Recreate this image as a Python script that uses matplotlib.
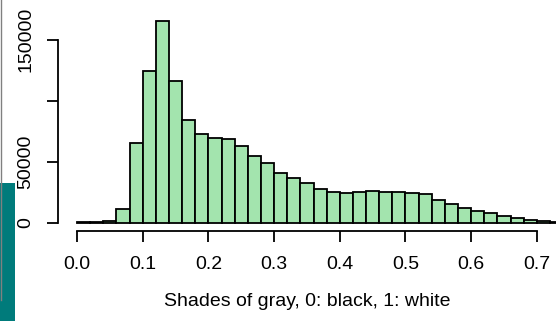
import matplotlib
matplotlib.use("Agg")
import matplotlib.pyplot as plt
from matplotlib.patches import Rectangle
from matplotlib.lines import Line2D

plt.rcParams['font.family'] = ['Liberation Sans', 'DejaVu Sans']

bin_width = 0.02
bin_starts = [round(i * bin_width, 2) for i in range(37)]
counts = [200, 300, 1200, 11200, 65100, 124100, 165100, 116400, 84300, 73000,
          69200, 68600, 62900, 54700, 48700, 40700, 36400, 32800, 27900, 24900,
          24300, 25000, 25600, 25500, 25400, 24300, 23200, 18600, 15600, 12300,
          9800, 7700, 5200, 3600, 2200, 1400, 800]
xticks = [0.0, 0.1, 0.2, 0.3, 0.4, 0.5, 0.6, 0.7]
xtick_labels = ["0.0", "0.1", "0.2", "0.3", "0.4", "0.5", "0.6", "0.7"]
yticks = [0, 50000, 100000, 150000]
ytick_labels = ["0", "50000", "", "150000"]
xlabel = "Shades of gray, 0: black, 1: white"

W, H = 556, 321
fig = plt.figure(figsize=(W / 100, H / 100), dpi=100)

# axes placement in pixels
left_px, right_px = 58, 556
top_px, bottom_px = 13.35, 231.0
ax = fig.add_axes([left_px / W, 1 - bottom_px / H, (right_px - left_px) / W, (bottom_px - top_px) / H])

ax.bar(bin_starts, counts, width=bin_width, align='edge', color='#A3E4AE',
       edgecolor='black', linewidth=1.3, clip_on=True)

ax.set_xlim(-0.0289, 0.7291)
ax.set_ylim(-6800, 171600)

for s in ['top', 'right']:
    ax.spines[s].set_visible(False)
ax.spines['left'].set_bounds(0, 150000)
ax.spines['bottom'].set_bounds(0, 0.7)
ax.spines['left'].set_linewidth(1.3)
ax.spines['bottom'].set_linewidth(1.3)

ax.set_xticks(xticks)
ax.set_xticklabels(xtick_labels)
ax.set_yticks(yticks)
ax.set_yticklabels(ytick_labels, rotation=90, va='center')
ax.tick_params(axis='both', length=8, width=1.3, labelsize=14)
ax.tick_params(axis='x', pad=10)
ax.tick_params(axis='y', pad=9)

fig.text(307.5 / W, 1 - 301 / H, xlabel, ha='center', va='center', fontsize=14)

# screenshot artifacts at the left edge
fig.patches.append(Rectangle((0, 0), 15 / W, (H - 183) / H, transform=fig.transFigure,
                             facecolor='#007B7B', edgecolor='none', zorder=5))
fig.lines.append(Line2D([0.8 / W, 0.8 / W], [1 - 300 / H, 1], transform=fig.transFigure,
                        color='#808080', linewidth=1.0, zorder=6))

fig.savefig('out.png', dpi=100)
